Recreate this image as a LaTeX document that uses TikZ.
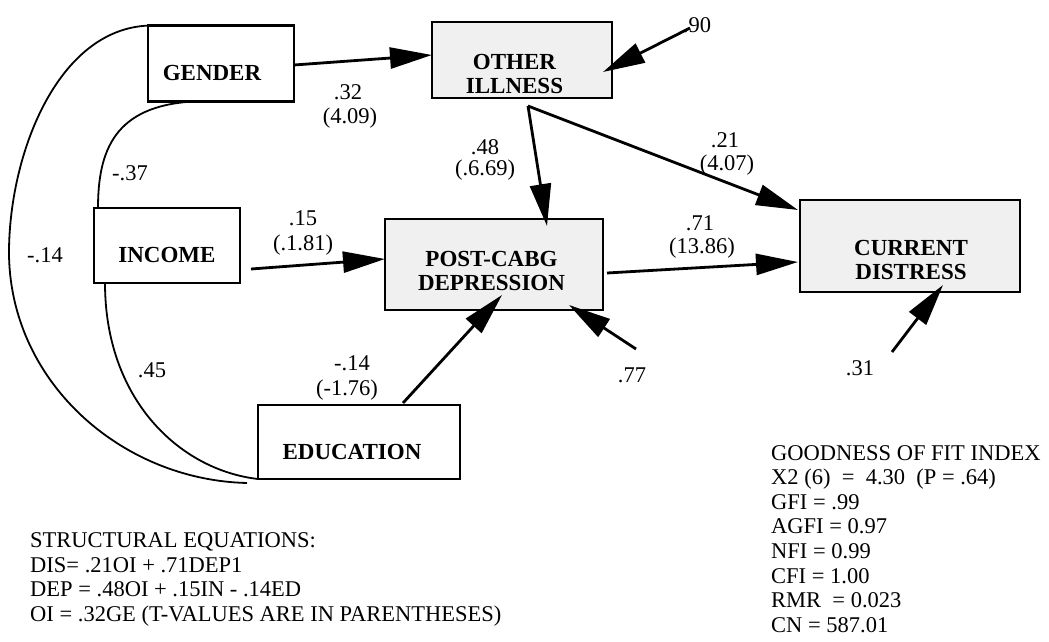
\documentclass[tikz,border=0pt]{standalone}
\usepackage{fontspec}
\setmainfont{Liberation Serif}
\usetikzlibrary{arrows.meta,calc}
\begin{document}
\begin{tikzpicture}[x=1pt,y=-1pt,
  box/.style={draw, line width=2.3pt, inner sep=0pt, outer sep=0pt},
  shaded/.style={fill=black!6},
  arr/.style={line width=2.8pt, -{Triangle[length=42pt,width=21pt]}},
  cor/.style={line width=1.8pt},
  lab/.style={font=\fontsize{22.5}{25}\selectfont, inner sep=0pt},
  btxt/.style={font=\bfseries\fontsize{23}{24}\selectfont, align=center, inner sep=0pt},
  eqline/.style={font=\fontsize{22.5}{25}\selectfont, inner sep=0pt, anchor=base west}]
\useasboundingbox (0,0) rectangle (1049,642);

% boxes
\node[box, minimum width=146pt, minimum height=76pt] (gender) at (221,63.5) {};
\node[box, shaded, minimum width=180pt, minimum height=76pt] (oi) at (522,60) {};
\node[box, shaded, minimum width=220pt, minimum height=92pt] (cd) at (910,246) {};
\node[box, minimum width=146pt, minimum height=75pt] (income) at (167,245.5) {};
\node[box, shaded, minimum width=218pt, minimum height=91pt] (pc) at (494,264.5) {};
\node[box, minimum width=202pt, minimum height=74pt] (edu) at (359,442) {};

% box texts
\node[btxt] (gendert) at (212,73) {GENDER};
\node[btxt] (oit) at (514.5,74) {OTHER\\ILLNESS};
\node[btxt] (cdt) at (911,259.5) {CURRENT\\DISTRESS};
\node[btxt] (incomet) at (167,255) {INCOME};
\node[btxt] (pct) at (491.5,271) {POST-CABG\\DEPRESSION};
\node[btxt] (edut) at (352,452) {EDUCATION};

% error terms
\coordinate (e90) at (690,28);
\coordinate (e77) at (636,349);
\coordinate (e31) at (892,352);

% directed paths
\draw[arr] ([yshift=-1.5pt]gender.east) -- ([yshift=5pt]oi.west);
\draw[arr] ([xshift=6pt,yshift=-8pt]oi.south) -- ([xshift=53pt,yshift=-7pt]pc.north);
\draw[arr] ([xshift=6pt,yshift=-8pt]oi.south) -- ([xshift=-2pt,yshift=-10pt]cd.north west);
\draw[arr] ([xshift=11pt,yshift=-23.5pt]income.east) -- ([yshift=5.5pt]pc.west);
\draw[arr] ([xshift=4pt,yshift=-8.5pt]pc.east) -- ([xshift=-2pt,yshift=-16pt]cd.west);
\draw[arr] ([xshift=44pt,yshift=2pt]edu.north) -- ([xshift=8pt,yshift=15pt]pc.south);
\draw[arr] (e77) -- ([xshift=-34pt,yshift=5pt]pc.south east);
\draw[arr] (e31) -- ([xshift=33pt,yshift=7pt]cd.south);

% path labels
\node[lab] (l90) at (697,25) {.90};
\draw[arr] (e90) -- ([xshift=-9pt,yshift=-12pt]oi.east);

% correlations
\draw[cor] ([xshift=-28pt]gender.south) .. controls (115,106) and (98,150) .. ([xshift=4pt]income.north west);
\draw[cor] ([xshift=5pt]gender.north west) .. controls (60,25) and (10,150) .. (9,250)
  .. controls (8,380) and (120,480) .. ([xshift=-11pt,yshift=-4pt]edu.south west);
\draw[cor] ([xshift=11pt]income.south west) .. controls (105,400) and (180,470) .. (edu.south west);

\node[lab] (l32) at (348,92) {.32};
\node[lab] (t32) at (350,118) {(4.09)};
\node[lab] (l37) at (130,173) {-.37};
\node[lab] (l15) at (303,218) {.15};
\node[lab] (t15) at (303,245) {(.1.81)};
\node[lab] (l14a) at (45,255) {-.14};
\node[lab] (l45) at (152,370) {.45};
\node[lab] (l14b) at (352,363) {-.14};
\node[lab] (t14b) at (347,390) {(-1.76)};
\node[lab] (l48) at (485,147) {.48};
\node[lab] (t48) at (485,170) {(.6.69)};
\node[lab] (l21) at (725,140) {.21};
\node[lab] (t21) at (727,165) {(4.07)};
\node[lab] (l71) at (700,223) {.71};
\node[lab] (t71) at (702,248) {(13.86)};
\node[lab] (l77) at (632,375) {.77};
\node[lab] (l31) at (860,368) {.31};

% structural equations
\node[eqline] (se1) at (30,547.5) {STRUCTURAL EQUATIONS:};
\node[eqline] (se2) at (30,572.2) {DIS= .21OI + .71DEP1};
\node[eqline] (se3) at (30,596.9) {DEP = .48OI + .15IN - .14ED};
\node[eqline] (se4) at (30,621.6) {OI = .32GE (T-VALUES ARE IN PARENTHESES)};

% goodness of fit
\node[eqline] (gf1) at (771,460) {GOODNESS OF FIT INDEX};
\node[eqline] (gf2) at (771,484.6) {X2 (6) \ = \ 4.30 \ (P = .64)};
\node[eqline] (gf3) at (771,509.2) {GFI = .99};
\node[eqline] (gf4) at (771,533.8) {AGFI = 0.97};
\node[eqline] (gf5) at (771,558.4) {NFI = 0.99};
\node[eqline] (gf6) at (771,583) {CFI = 1.00};
\node[eqline] (gf7) at (771,607.6) {RMR \ = 0.023};
\node[eqline] (gf8) at (771,632.2) {CN = 587.01};
\end{tikzpicture}
\end{document}
